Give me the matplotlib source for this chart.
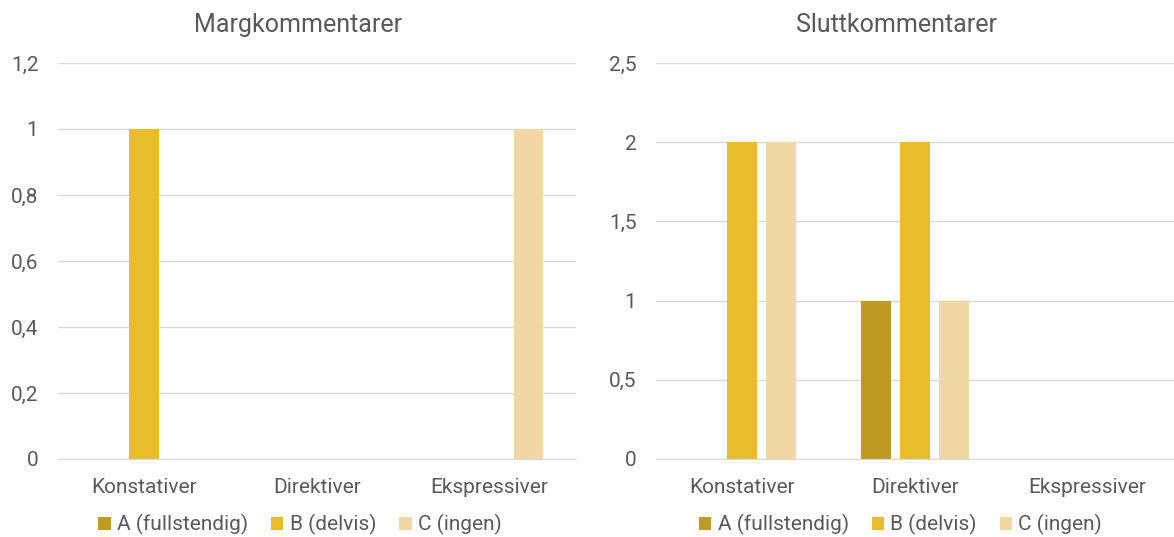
import matplotlib
matplotlib.use("Agg")
import matplotlib.pyplot as plt
from matplotlib.ticker import FuncFormatter, MultipleLocator
import numpy as np

plt.rcParams['font.family'] = ['Roboto', 'DejaVu Sans']

categories = ["Konstativer", "Direktiver", "Ekspressiver"]
series = ["A (fullstendig)", "B (delvis)", "C (ingen)"]
colors = ["#BF9A22", "#E8BC2A", "#F0D7A3"]

marg_A = [0, 0, 0]
marg_B = [1, 0, 0]
marg_C = [0, 0, 1]

slutt_A = [0, 1, 0]
slutt_B = [2, 2, 0]
slutt_C = [2, 1, 0]

text_color = "#595959"
grid_color = "#D9D9D9"

fig = plt.figure(figsize=(11.74, 5.37), dpi=100)
ax1 = fig.add_axes([58/1174, 1-459/537, 518/1174, 396/537])
ax2 = fig.add_axes([656/1174, 1-459/537, 518/1174, 396/537])

def fmt(v, pos):
    s = ("%g" % round(v, 3))
    return s.replace(".", ",")

def draw(ax, data, title, ymax, step, legend_x, title_x):
    x = np.arange(len(categories))
    w = 0.173
    off = 0.225
    for i, (vals, c, name) in enumerate(zip(data, colors, series)):
        ax.bar(x + (i - 1) * off, vals, width=w, color=c, label=name, zorder=3)
    ax.set_xlim(-0.5, len(categories) - 0.5)
    ax.set_ylim(0, ymax)
    ax.yaxis.set_major_locator(MultipleLocator(step))
    ax.yaxis.set_major_formatter(FuncFormatter(fmt))
    ax.grid(axis="y", color=grid_color, linewidth=1, zorder=0)
    for s in ["top", "right", "left"]:
        ax.spines[s].set_visible(False)
    ax.spines["bottom"].set_color(grid_color)
    ax.spines["bottom"].set_zorder(4)
    ax.tick_params(axis="both", length=0, labelsize=15, colors=text_color)
    ax.tick_params(axis="y", pad=14)
    ax.tick_params(axis="x", pad=14)
    ax.set_xticks(x)
    ax.set_xticklabels(categories)
    ax.set_title(title, fontsize=18, color=text_color, pad=22, x=title_x)
    ax.legend(loc="center", bbox_to_anchor=(legend_x, -0.166), ncol=3,
              frameon=False, fontsize=15, handlelength=0.6, handleheight=0.6,
              handletextpad=0.3, columnspacing=1.1, labelcolor=text_color)

draw(ax1, [marg_A, marg_B, marg_C], "Margkommentarer", 1.2, 0.2, 0.467, 0.463)
draw(ax2, [slutt_A, slutt_B, slutt_C], "Sluttkommentarer", 2.5, 0.5, 0.472, 0.465)

fig.savefig("out.png", dpi=100, facecolor="white")
